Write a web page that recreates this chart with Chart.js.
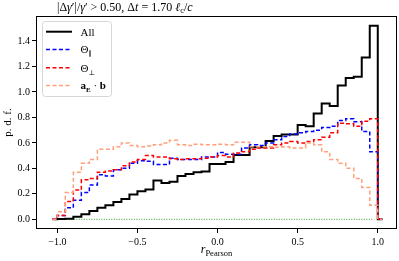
<!DOCTYPE html>
<html>
<head>
<meta charset="utf-8">
<script src="https://cdn.jsdelivr.net/npm/chart.js@4.4.0/dist/chart.umd.min.js"></script>
<style>
  html, body { margin: 0; padding: 0; background: #fff; }
  #wrap { width: 399px; height: 261px; }
</style>
</head>
<body>
<div id="wrap"><canvas id="myChart" width="399" height="261"></canvas></div>
<script>
'use strict';

// bin edges of the histograms (r_Pearson)
const binEdges = [-1.0, -0.95, -0.9, -0.85, -0.8, -0.75, -0.7, -0.65, -0.6, -0.55,
  -0.5, -0.45, -0.4, -0.35, -0.3, -0.25, -0.2, -0.15, -0.1, -0.05,
  0.0, 0.05, 0.1, 0.15, 0.2, 0.25, 0.3, 0.35, 0.4, 0.45,
  0.5, 0.55, 0.6, 0.65, 0.7, 0.75, 0.8, 0.85, 0.9, 0.95, 1.0];
const outerEdges = [-1.03, 1.03];

const allVals = [0.003, 0.005, 0.02, 0.04, 0.065, 0.09, 0.11, 0.135, 0.16, 0.195,
  0.22, 0.235, 0.305, 0.285, 0.295, 0.34, 0.355, 0.37, 0.375, 0.435,
  0.435, 0.45, 0.505, 0.505, 0.565, 0.565, 0.615, 0.655, 0.665, 0.665,
  0.74, 0.73, 0.83, 0.91, 0.89, 1.05, 1.11, 1.12, 1.27, 1.52];
const paraVals = [0.03, 0.09, 0.15, 0.21, 0.27, 0.35, 0.34, 0.39, 0.40, 0.44,
  0.46, 0.455, 0.43, 0.43, 0.48, 0.47, 0.47, 0.47, 0.49, 0.49,
  0.525, 0.51, 0.51, 0.56, 0.585, 0.58, 0.60, 0.625, 0.65, 0.67,
  0.68, 0.69, 0.70, 0.72, 0.73, 0.775, 0.79, 0.765, 0.69, 0.53];
const perpVals = [0.03, 0.14, 0.23, 0.31, 0.32, 0.37, 0.38, 0.39, 0.42, 0.45,
  0.47, 0.50, 0.49, 0.49, 0.475, 0.47, 0.475, 0.475, 0.48, 0.49,
  0.50, 0.49, 0.52, 0.53, 0.55, 0.56, 0.56, 0.585, 0.60, 0.61,
  0.60, 0.61, 0.625, 0.645, 0.68, 0.755, 0.75, 0.73, 0.77, 0.79];
const aebVals = [0.06, 0.21, 0.37, 0.44, 0.47, 0.55, 0.55, 0.57, 0.60, 0.58,
  0.57, 0.575, 0.585, 0.60, 0.62, 0.585, 0.58, 0.59, 0.585, 0.585,
  0.59, 0.585, 0.605, 0.605, 0.57, 0.57, 0.57, 0.565, 0.57, 0.56,
  0.56, 0.60, 0.585, 0.53, 0.47, 0.44, 0.40, 0.32, 0.25, 0.11];
const zeroLine = [{x: -0.975, y: 0}, {x: 0.975, y: 0}];

const xTicks = [-1.0, -0.5, 0.0, 0.5, 1.0];
const yTicks = [0.0, 0.2, 0.4, 0.6, 0.8, 1.0, 1.2, 1.4];

const SERIF = "'Liberation Serif', 'DejaVu Serif', serif";

// histogram outline points for stepped:'after'
function stepPoints(vals) {
  let pts = [{x: outerEdges[0], y: 0}, {x: binEdges[0], y: 0}];
  for (let i = 0; i < vals.length; i++) {
    pts.push({x: binEdges[i + 1], y: vals[i]});
  }
  pts.push({x: outerEdges[1], y: 0});
  return pts;
}

function fmt(v) {
  return v.toFixed(1).replace('-', '\u2212');
}

function drawRuns(c, x, y, runs) {
  for (let r of runs) {
    c.font = r.f;
    c.fillText(r.t, x, y + (r.dy || 0));
    x += c.measureText(r.t).width;
  }
  return x;
}
function runsWidth(c, runs) {
  let w = 0;
  for (let r of runs) { c.font = r.f; w += c.measureText(r.t).width; }
  return w;
}

const lineStyles = [
  {label: 'All', color: '#000000', width: 2, dash: []},
  {label: 'para', color: '#0000ff', width: 1.5, dash: [4, 2.5]},
  {label: 'perp', color: '#ff0000', width: 1.5, dash: [4, 2.5]},
  {label: 'aeb', color: '#ffa07a', width: 1.5, dash: [4, 2.5]}
];

const decorPlugin = {
  id: 'decor',
  afterDraw(chart) {
    const c = chart.ctx;
    const a = chart.chartArea;
    c.save();
    // frame
    c.strokeStyle = '#000';
    c.lineWidth = 1;
    c.setLineDash([]);
    c.strokeRect(Math.round(a.left) + 0.5, Math.round(a.top) + 0.5,
      Math.round(a.right - a.left) - 1, Math.round(a.bottom - a.top) - 1);

    c.fillStyle = '#000';
    c.textBaseline = 'alphabetic';
    c.textAlign = 'left';

    // title
    const up = '12px ' + SERIF, it = 'italic 12px ' + SERIF, sub = '8.5px ' + SERIF;
    drawRuns(c, 57, 10.5, [
      {t: '|\u0394', f: up}, {t: '\u03b3', f: it}, {t: '\u2032|/', f: up},
      {t: '\u03b3', f: it}, {t: '\u2032 > 0.50, \u0394', f: up}, {t: 't', f: it},
      {t: ' = 1.70 ', f: up}, {t: '\u2113', f: it}, {t: 'c', f: sub, dy: 2.5},
      {t: '/', f: up}, {t: 'c', f: it}
    ]);

    // x label
    const xl = [{t: 'r', f: 'italic 12px ' + SERIF}, {t: 'Pearson', f: '8.5px ' + SERIF, dy: 3}];
    const xc = (a.left + a.right) / 2;
    drawRuns(c, xc - runsWidth(c, xl) / 2, 253, xl);

    // y label
    c.save();
    c.translate(11, (a.top + a.bottom) / 2);
    c.rotate(-Math.PI / 2);
    c.textAlign = 'center';
    c.font = '11px ' + SERIF;
    c.fillText('p. d. f.', 0, 0);
    c.restore();

    // legend
    const bx = 42.5, by = 21.5, bw = 69, bh = 75;
    c.beginPath();
    c.roundRect(bx, by, bw, bh, 3);
    c.fillStyle = 'rgba(255,255,255,0.8)';
    c.fill();
    c.strokeStyle = '#d6d6d6';
    c.lineWidth = 1;
    c.stroke();

    const rowsY = [31.7, 49.5, 67.7, 85.5];
    const ub = '11px ' + SERIF, bb = 'bold 11px ' + SERIF, sb = '7px ' + SERIF, sbb = 'bold 7px ' + SERIF;
    const texts = [
      [{t: 'All', f: ub}],
      [{t: '\u0398', f: ub}, {t: '\u2225', f: sb, dy: 3}],
      [{t: '\u0398', f: ub}, {t: '\u22a5', f: sb, dy: 3}],
      [{t: 'a', f: bb}, {t: 'E', f: sbb, dy: 2.5}, {t: ' \u00b7 ', f: ub}, {t: 'b', f: bb}]
    ];
    for (let i = 0; i < lineStyles.length; i++) {
      const s = lineStyles[i];
      c.beginPath();
      c.strokeStyle = s.color;
      c.lineWidth = s.width;
      c.setLineDash(s.dash);
      c.moveTo(46, rowsY[i]);
      c.lineTo(72, rowsY[i]);
      c.stroke();
      c.setLineDash([]);
      c.fillStyle = '#000';
      drawRuns(c, 80.5, rowsY[i] + 3.8, texts[i]);
    }
    c.restore();
  }
};

function histDataset(vals, style, order) {
  return {
    label: style.label,
    data: stepPoints(vals),
    stepped: 'after',
    borderColor: style.color,
    borderWidth: style.width,
    borderDash: style.dash,
    borderJoinStyle: 'miter',
    borderCapStyle: 'butt',
    pointRadius: 0,
    fill: false,
    order: order
  };
}

const ctx = document.getElementById('myChart').getContext('2d');
const myChart = new Chart(ctx, {
  type: 'line',
  data: {
    datasets: [
      histDataset(allVals, lineStyles[0], 4),
      histDataset(paraVals, lineStyles[1], 3),
      histDataset(perpVals, lineStyles[2], 2),
      histDataset(aebVals, lineStyles[3], 1),
      {
        label: 'zero',
        data: zeroLine,
        borderColor: '#2ca02c',
        borderWidth: 1,
        borderDash: [1, 1.5],
        pointRadius: 0,
        fill: false,
        order: 5
      }
    ]
  },
  options: {
    responsive: false,
    animation: false,
    layout: { padding: { left: 0, right: 2, top: 16, bottom: 0 } },
    plugins: {
      legend: { display: false },
      tooltip: { enabled: false },
      title: { display: false }
    },
    scales: {
      x: {
        type: 'linear',
        min: -1.133,
        max: 1.12,
        afterBuildTicks(scale) { scale.ticks = xTicks.map(v => ({value: v})); },
        afterFit(scale) { scale.height = 32; },
        grid: { display: true, drawOnChartArea: false, drawTicks: true, tickLength: 4, color: '#000', lineWidth: 1 },
        border: { display: false },
        ticks: {
          color: '#000',
          padding: 3,
          maxRotation: 0,
          font: { family: SERIF, size: 10 },
          callback: v => fmt(v)
        }
      },
      y: {
        type: 'linear',
        min: -0.076,
        max: 1.596,
        afterBuildTicks(scale) { scale.ticks = yTicks.map(v => ({value: v})); },
        afterFit(scale) { scale.width = 36; },
        grid: { display: true, drawOnChartArea: false, drawTicks: true, tickLength: 4, color: '#000', lineWidth: 1 },
        border: { display: false },
        ticks: {
          color: '#000',
          padding: 2,
          font: { family: SERIF, size: 10 },
          callback: v => fmt(v)
        }
      }
    }
  },
  plugins: [decorPlugin]
});
</script>
</body>
</html>
